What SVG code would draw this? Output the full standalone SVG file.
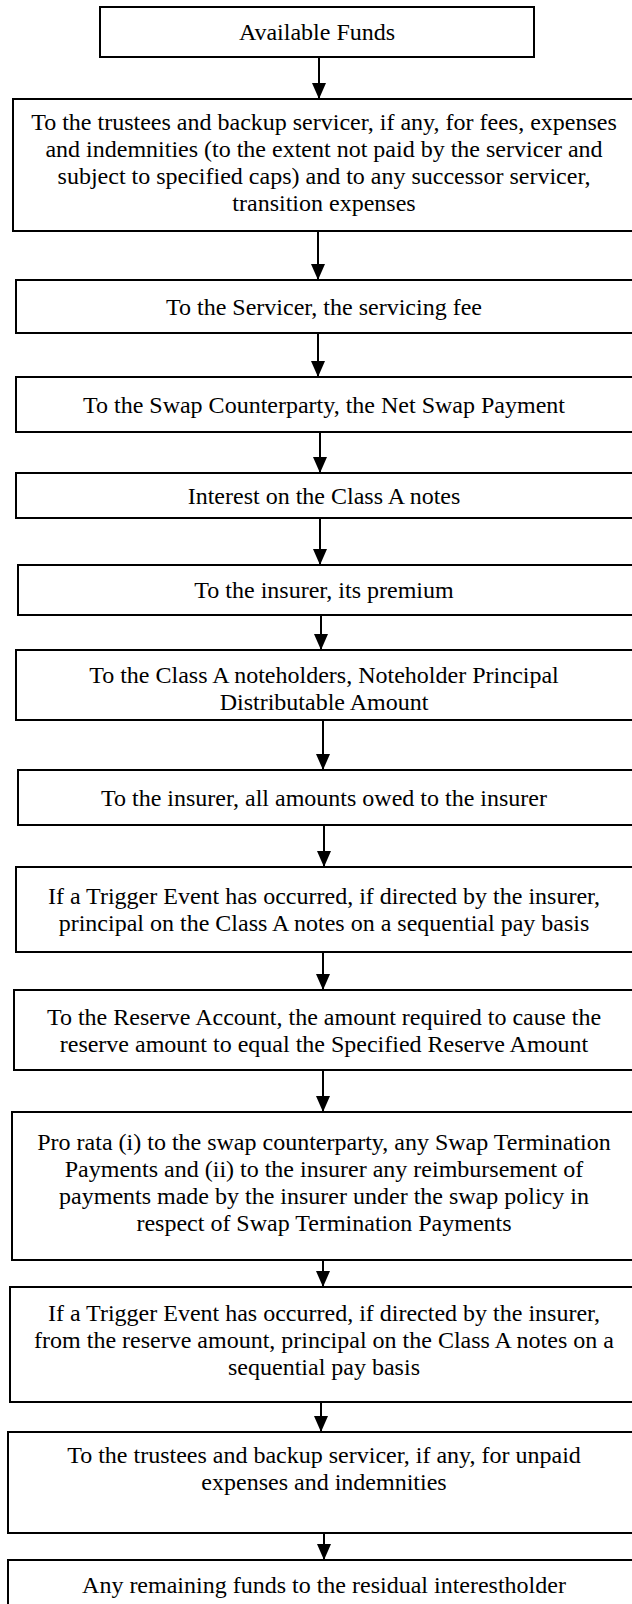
<svg xmlns="http://www.w3.org/2000/svg" width="632" height="1604" viewBox="0 0 632 1604">
<style>
.box{fill:#fff;stroke:#000;stroke-width:2}
.t{font-family:"Liberation Serif","Times New Roman",serif;font-size:24px;fill:#000;text-anchor:middle}
.c{stroke:#000;stroke-width:2;fill:none;marker-end:url(#ah)}
</style>
<defs>
<marker id="ah" viewBox="0 0 16 14" refX="16" refY="7" markerWidth="16" markerHeight="14" markerUnits="userSpaceOnUse" orient="auto">
<path d="M0,0 L16,7 L0,14 z" fill="#000"/>
</marker>
</defs>
<rect width="632" height="1604" fill="#fff"/>
<g id="connectors">
<line class="c" x1="319" y1="57" x2="319" y2="99"/>
<line class="c" x1="318" y1="231" x2="318" y2="280"/>
<line class="c" x1="318" y1="333" x2="318" y2="377"/>
<line class="c" x1="320" y1="432" x2="320" y2="473"/>
<line class="c" x1="320" y1="518" x2="320" y2="565"/>
<line class="c" x1="321" y1="615" x2="321" y2="650"/>
<line class="c" x1="323" y1="720" x2="323" y2="770"/>
<line class="c" x1="324" y1="825" x2="324" y2="867"/>
<line class="c" x1="323" y1="952" x2="323" y2="990"/>
<line class="c" x1="323" y1="1070" x2="323" y2="1112"/>
<line class="c" x1="323" y1="1260" x2="323" y2="1287"/>
<line class="c" x1="321" y1="1402" x2="321" y2="1432"/>
<line class="c" x1="324" y1="1533" x2="324" y2="1560"/>
</g>
<g id="n1"><rect class="box" x="100" y="7" width="434" height="50"/><text class="t" x="317" y="40">Available Funds</text></g>
<g id="n2"><rect class="box" x="13" y="99" width="622" height="132"/>
<text class="t" x="324" y="130">To the trustees and backup servicer, if any, for fees, expenses</text>
<text class="t" x="324" y="157">and indemnities (to the extent not paid by the servicer and</text>
<text class="t" x="324" y="184">subject to specified caps) and to any successor servicer,</text>
<text class="t" x="324" y="211">transition expenses</text></g>
<g id="n3"><rect class="box" x="16" y="280" width="620" height="53"/><text class="t" x="324" y="315">To the Servicer, the servicing fee</text></g>
<g id="n4"><rect class="box" x="16" y="377" width="620" height="55"/><text class="t" x="324" y="413">To the Swap Counterparty, the Net Swap Payment</text></g>
<g id="n5"><rect class="box" x="16" y="473" width="620" height="45"/><text class="t" x="324" y="504">Interest on the Class A notes</text></g>
<g id="n6"><rect class="box" x="18" y="565" width="618" height="50"/><text class="t" x="324" y="598">To the insurer, its premium</text></g>
<g id="n7"><rect class="box" x="16" y="650" width="620" height="70"/>
<text class="t" x="324" y="683">To the Class A noteholders, Noteholder Principal</text>
<text class="t" x="324" y="710">Distributable Amount</text></g>
<g id="n8"><rect class="box" x="18" y="770" width="618" height="55"/><text class="t" x="324" y="806">To the insurer, all amounts owed to the insurer</text></g>
<g id="n9"><rect class="box" x="16" y="867" width="620" height="85"/>
<text class="t" x="324" y="904">If a Trigger Event has occurred, if directed by the insurer,</text>
<text class="t" x="324" y="931">principal on the Class A notes on a sequential pay basis</text></g>
<g id="n10"><rect class="box" x="14" y="990" width="622" height="80"/>
<text class="t" x="324" y="1025">To the Reserve Account, the amount required to cause the</text>
<text class="t" x="324" y="1052">reserve amount to equal the Specified Reserve Amount</text></g>
<g id="n11"><rect class="box" x="12" y="1112" width="624" height="148"/>
<text class="t" x="324" y="1150">Pro rata (i) to the swap counterparty, any Swap Termination</text>
<text class="t" x="324" y="1177">Payments and (ii) to the insurer any reimbursement of</text>
<text class="t" x="324" y="1204">payments made by the insurer under the swap policy in</text>
<text class="t" x="324" y="1231">respect of Swap Termination Payments</text></g>
<g id="n12"><rect class="box" x="10" y="1287" width="626" height="115"/>
<text class="t" x="324" y="1321">If a Trigger Event has occurred, if directed by the insurer,</text>
<text class="t" x="324" y="1348">from the reserve amount, principal on the Class A notes on a</text>
<text class="t" x="324" y="1375">sequential pay basis</text></g>
<g id="n13"><rect class="box" x="8" y="1432" width="628" height="101"/>
<text class="t" x="324" y="1463">To the trustees and backup servicer, if any, for unpaid</text>
<text class="t" x="324" y="1490">expenses and indemnities</text></g>
<g id="n14"><rect class="box" x="8" y="1560" width="628" height="60"/>
<text class="t" x="324" y="1593">Any remaining funds to the residual interestholder</text></g>
</svg>
